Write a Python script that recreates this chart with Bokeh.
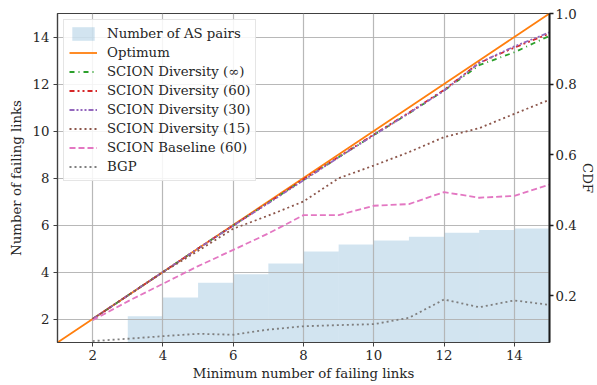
from bokeh.plotting import figure
from bokeh.models import Range1d, LinearAxis, Legend, LegendItem, FixedTicker, NumeralTickFormatter
from bokeh.embed import file_html
from bokeh.resources import INLINE

# ---- data ----
bar_x = [2, 3, 4, 5, 6, 7, 8, 9, 10, 11, 12, 13, 14]
bar_cdf = [0.06, 0.141, 0.194, 0.236, 0.260, 0.291, 0.325, 0.345, 0.356, 0.367, 0.378, 0.386, 0.390]

opt_x = [1, 2, 3, 4, 5, 6, 7, 8, 9, 10, 11, 12, 13, 14, 15]
opt_y = [1, 2, 3, 4, 5, 6, 7, 8, 9, 10, 11, 12, 13, 14, 15]

xs = [2, 3, 4, 5, 6, 7, 8, 9, 10, 11, 12, 13, 14, 15]
div_inf = [2, 3, 4, 5, 5.98, 6.95, 7.92, 8.88, 9.83, 10.75, 11.72, 12.8, 13.35, 14.05]
div_60 = [2, 3, 4, 5, 5.98, 6.95, 7.95, 8.9, 9.85, 10.78, 11.75, 12.9, 13.55, 14.15]
div_30 = [2, 3, 4, 5, 5.97, 6.93, 7.9, 8.88, 9.82, 10.76, 11.72, 12.9, 13.6, 14.2]
div_15 = [2, 3, 3.99, 4.9, 5.84, 6.4, 7.0, 7.99, 8.53, 9.1, 9.74, 10.12, 10.73, 11.33]
baseline_60 = [1.95, 2.75, 3.5, 4.25, 4.94, 5.64, 6.42, 6.42, 6.82, 6.89, 7.4, 7.16, 7.24, 7.72]
bgp = [1.06, 1.16, 1.27, 1.37, 1.33, 1.55, 1.69, 1.74, 1.78, 2.05, 2.83, 2.5, 2.79, 2.6]

x_ticks = [2, 4, 6, 8, 10, 12, 14]
y_ticks = [2, 4, 6, 8, 10, 12, 14]
cdf_ticks = [0.2, 0.4, 0.6, 0.8, 1.0]

FONT = "DejaVu Serif"
FS = "13.3px"

p = figure(width=597, height=385, output_backend="svg", toolbar_location=None,
           x_range=Range1d(1, 15), y_range=Range1d(1, 15),
           min_border_left=57, min_border_right=48, min_border_top=13, min_border_bottom=43)
p.extra_y_ranges = {"cdf": Range1d(1 / 15, 1.0)}

bars = p.quad(left=[b for b in bar_x], right=[b + 1 for b in bar_x], bottom=0, top=bar_cdf,
              y_range_name="cdf", fill_color="#1f77b4", fill_alpha=0.2, line_color=None)
bars.level = "image"

r_opt = p.line(opt_x, opt_y, line_color="#ff7f0e", line_width=1.8)
r_inf = p.line(xs, div_inf, line_color="#2ca02c", line_width=1.8, line_dash="5 4 1 4")
r_60 = p.line(xs, div_60, line_color="#d62728", line_width=1.8, line_dash="5 3 2 3 2 3")
r_30 = p.line(xs, div_30, line_color="#9467bd", line_width=1.8, line_dash="5 2 2 2 2 2 2 2")
r_15 = p.line(xs, div_15, line_color="#8c564b", line_width=1.8, line_dash="2 3")
r_base = p.line(xs, baseline_60, line_color="#e377c2", line_width=1.8, line_dash="6 3")
r_bgp = p.line(xs, bgp, line_color="#7f7f7f", line_width=1.8, line_dash="2 3")


def style_axis(ax, color="#404040", width=1.2):
    ax.major_label_text_font = FONT
    ax.major_label_text_font_size = FS
    ax.major_label_text_color = "#262626"
    ax.axis_label_text_font = FONT
    ax.axis_label_text_font_size = FS
    ax.axis_label_text_font_style = "normal"
    ax.axis_label_text_color = "#262626"
    ax.minor_tick_line_color = None
    ax.major_tick_in = 0
    ax.major_tick_out = 4
    ax.axis_line_color = color
    ax.major_tick_line_color = color
    ax.axis_line_width = width


style_axis(p.xaxis[0])
style_axis(p.yaxis[0])
p.xaxis[0].ticker = FixedTicker(ticks=x_ticks)
p.yaxis[0].ticker = FixedTicker(ticks=y_ticks)
p.xaxis[0].axis_label = "Minimum number of failing links"
p.yaxis[0].axis_label = "Number of failing links"
p.xaxis[0].axis_label_standoff = 3
p.yaxis[0].axis_label_standoff = 6
p.xaxis[0].major_label_standoff = 3
p.yaxis[0].major_label_standoff = 4

ax2 = LinearAxis(y_range_name="cdf", axis_label="CDF", ticker=FixedTicker(ticks=cdf_ticks),
                 formatter=NumeralTickFormatter(format="0.0"))
style_axis(ax2, color="#1a1a1a", width=2)
ax2.major_tick_line_width = 1.5
ax2.major_label_standoff = 2
ax2.axis_label_standoff = 0
p.add_layout(ax2, "right")

p.xgrid[0].ticker = FixedTicker(ticks=x_ticks)
p.ygrid[0].ticker = FixedTicker(ticks=y_ticks)
p.grid.grid_line_color = "#b0b0b0"
p.grid.grid_line_width = 1.2
p.grid.grid_line_alpha = 0.9

p.outline_line_color = "#404040"
p.outline_line_width = 1.2
p.background_fill_color = "white"
p.border_fill_color = "white"

legend = Legend(items=[
    LegendItem(label="Number of AS pairs", renderers=[bars]),
    LegendItem(label="Optimum", renderers=[r_opt]),
    LegendItem(label="SCION Diversity (∞)", renderers=[r_inf]),
    LegendItem(label="SCION Diversity (60)", renderers=[r_60]),
    LegendItem(label="SCION Diversity (30)", renderers=[r_30]),
    LegendItem(label="SCION Diversity (15)", renderers=[r_15]),
    LegendItem(label="SCION Baseline (60)", renderers=[r_base]),
    LegendItem(label="BGP", renderers=[r_bgp]),
], location="top_left")
legend.label_text_font = FONT
legend.label_text_font_size = FS
legend.label_text_color = "#262626"
legend.glyph_width = 28
legend.glyph_height = 17
legend.label_height = 17
legend.spacing = 2
legend.padding = 5
legend.margin = 6
legend.label_standoff = 10
legend.border_line_color = "#cccccc"
legend.border_line_width = 1
legend.background_fill_alpha = 0.85
p.add_layout(legend, "center")

open("out.html", "w").write(file_html(p, INLINE))
